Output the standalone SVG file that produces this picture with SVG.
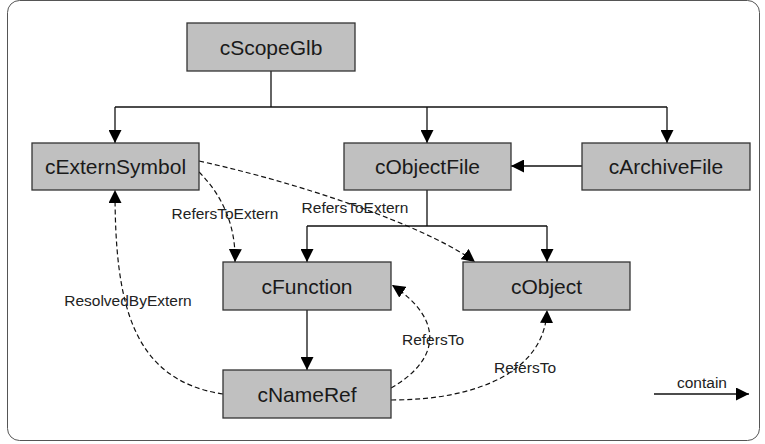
<svg xmlns="http://www.w3.org/2000/svg" width="765" height="444" viewBox="0 0 765 444">
  <style>
    .node rect { fill: #c0c0c0; stroke: #333; stroke-width: 1.3; }
    .node text { font-family: "Liberation Sans", Arial, sans-serif; font-size: 21px; fill: #1a1a1a; text-anchor: middle; }
    .edge { fill: none; stroke: #111; stroke-width: 1.3; }
    .ref { fill: none; stroke: #111; stroke-width: 1.2; stroke-dasharray: 5 3; }
    .lbl { font-family: "Liberation Sans", Arial, sans-serif; font-size: 15.5px; fill: #222; text-anchor: middle; }
  </style>
  <defs>
    <marker id="arrow" markerUnits="userSpaceOnUse" markerWidth="13" markerHeight="13" refX="12" refY="6" orient="auto" viewBox="0 0 12 12">
      <path d="M0,0 L12,6 L0,12 z" fill="#000"/>
    </marker>
  </defs>

  <rect x="7.5" y="0.5" width="752" height="440" rx="12" fill="#fff" stroke="#555" stroke-width="1"/>

  <g id="connectors">
    <!-- containment -->
    <path class="edge" d="M271,71 V107"/>
    <path class="edge" d="M115,107 H667"/>
    <path class="edge" d="M115,107 V143" marker-end="url(#arrow)"/>
    <path class="edge" d="M427,107 V143" marker-end="url(#arrow)"/>
    <path class="edge" d="M667,107 V143" marker-end="url(#arrow)"/>
    <path class="edge" d="M582,166 H511" marker-end="url(#arrow)"/>
    <path class="edge" d="M427,190 V226 M307,226 H547"/>
    <path class="edge" d="M307,226 V262" marker-end="url(#arrow)"/>
    <path class="edge" d="M547,226 V262" marker-end="url(#arrow)"/>
    <path class="edge" d="M307,310 V370" marker-end="url(#arrow)"/>
    <!-- references -->
    <path class="ref" d="M199,172 C222,195 236,225 235,262" marker-end="url(#arrow)"/>
    <path class="ref" d="M199,161 C330,190 440,235 475,262" marker-end="url(#arrow)"/>
    <path class="ref" d="M223,394 C130,380 115,300 115,190" marker-end="url(#arrow)"/>
    <path class="ref" d="M391,388 C440,360 445,320 392,285" marker-end="url(#arrow)"/>
    <path class="ref" d="M391,400 C480,400 545,370 547,310" marker-end="url(#arrow)"/>
    <!-- legend -->
    <path class="edge" d="M654,394 H749" marker-end="url(#arrow)"/>
    <text class="lbl" x="702" y="388">contain</text>
    <!-- labels -->
    <text class="lbl" x="225" y="219">RefersToExtern</text>
    <text class="lbl" x="355" y="213">RefersToExtern</text>
    <text class="lbl" x="128" y="306">ResolvedByExtern</text>
    <text class="lbl" x="433" y="345">RefersTo</text>
    <text class="lbl" x="525" y="373">RefersTo</text>
  </g>

  <g id="cScopeGlb" class="node"><rect x="187" y="23" width="168" height="48"/><text x="271" y="54.5">cScopeGlb</text></g>
  <g id="cExternSymbol" class="node"><rect x="32" y="143" width="167" height="47"/><text x="115.5" y="174">cExternSymbol</text></g>
  <g id="cObjectFile" class="node"><rect x="344" y="143" width="167" height="47"/><text x="427.5" y="174">cObjectFile</text></g>
  <g id="cArchiveFile" class="node"><rect x="582" y="143" width="168" height="47"/><text x="666" y="174">cArchiveFile</text></g>
  <g id="cFunction" class="node"><rect x="223" y="262" width="168" height="48"/><text x="307" y="293.5">cFunction</text></g>
  <g id="cObject" class="node"><rect x="463" y="262" width="167" height="48"/><text x="546.5" y="293.5">cObject</text></g>
  <g id="cNameRef" class="node"><rect x="223" y="370" width="168" height="48"/><text x="307" y="401.5">cNameRef</text></g>
</svg>
